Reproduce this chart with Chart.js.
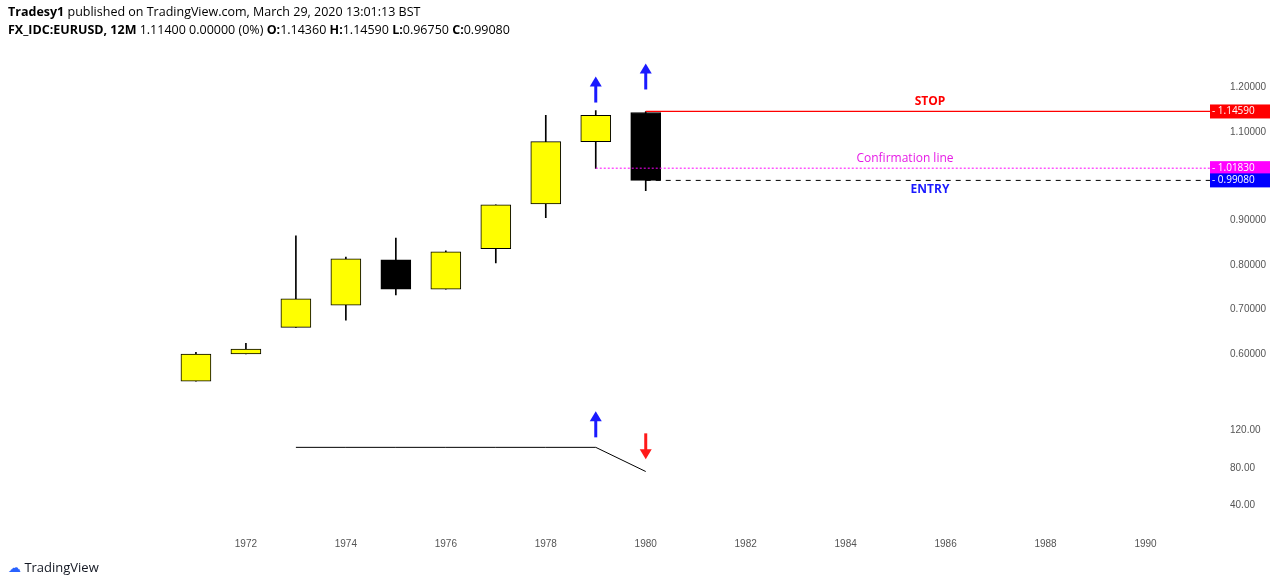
<!DOCTYPE html>
<html><head><meta charset="utf-8">
<script src="https://cdn.jsdelivr.net/npm/chart.js@4.4.1/dist/chart.umd.min.js"></script>
<style>
html,body{margin:0;padding:0;background:#fff;font-family:"Open Sans",sans-serif;}
#wrap{position:relative;width:1274px;height:586px;}
#hdr{position:absolute;left:8px;top:3px;font-size:12.5px;line-height:18px;color:#000;}
#logo{position:absolute;left:8px;bottom:10px;font-size:13px;color:#131722;}
</style></head>
<body><div id="wrap">
<canvas id="c" width="1274" height="586"></canvas>
<div id="hdr"><b>Tradesy1</b> published on TradingView.com, March 29, 2020 13:01:13 BST<br><b>FX_IDC:EURUSD, 12M</b> 1.11400 0.00000 (0%) <b>O:</b>1.14360 <b>H:</b>1.14590 <b>L:</b>0.96750 <b>C:</b>0.99080</div>
<div id="logo"><span style="color:#2962ff">&#9729;</span> TradingView</div>
</div>
<script>
// yearly candles
const years = [1971, 1972, 1973, 1974, 1975, 1976, 1977, 1978, 1979, 1980];
const opens = [0.539, 0.600, 0.660, 0.710, 0.812, 0.746, 0.837, 0.938, 1.078, 1.1436];
const highs = [0.604, 0.624, 0.866, 0.818, 0.861, 0.832, 0.936, 1.137, 1.148, 1.1459];
const lows = [0.539, 0.600, 0.660, 0.676, 0.733, 0.746, 0.805, 0.907, 1.018, 0.9675];
const closes = [0.600, 0.611, 0.724, 0.814, 0.746, 0.830, 0.936, 1.078, 1.137, 0.9908];

// indicator pane
const indYears = [1973, 1974, 1975, 1976, 1977, 1978, 1979, 1980];
const indValues = [102, 102, 102, 102, 102, 102, 102, 76];

const priceTicks = [0.6, 0.7, 0.8, 0.9, 1.0, 1.1, 1.2];
const indTicks = [40, 80, 120];
const yearTicks = [1972, 1974, 1976, 1978, 1980, 1982, 1984, 1986, 1988, 1990];

const stopLevel = 1.1459, confLevel = 1.0183, entryLevel = 0.9908;
const xMin = 1968.29, xMax = 1990.08, lineEnd = 1994;

const wicks = years.map((y, i) => ({x: y, y: [lows[i], highs[i]]}));
const bodies = years.map((y, i) => ({x: y, y: [opens[i], closes[i]]}));
const bodyColors = years.map((y, i) => closes[i] >= opens[i] ? '#ffff00' : '#000000');

const overlay = {
  id: 'overlay',
  afterDatasetsDraw(chart) {
    const ctx = chart.ctx, xs = chart.scales.x, yp = chart.scales.y, yi = chart.scales.y2;
    const ca = chart.chartArea;
    function arrow(x, y, up, color) {
      ctx.save(); ctx.fillStyle = color; ctx.strokeStyle = color; ctx.lineWidth = 3;
      const len = 26, dir = up ? -1 : 1;
      ctx.beginPath(); ctx.moveTo(x, y); ctx.lineTo(x, y + dir * (len - 8)); ctx.stroke();
      ctx.beginPath(); ctx.moveTo(x, y + dir * len); ctx.lineTo(x - 6, y + dir * (len - 10));
      ctx.lineTo(x + 6, y + dir * (len - 10)); ctx.closePath(); ctx.fill(); ctx.restore();
    }
    arrow(xs.getPixelForValue(1979), yp.getPixelForValue(highs[8]) - 8, true, '#1a1aff');
    arrow(xs.getPixelForValue(1980), yp.getPixelForValue(highs[9]) - 22, true, '#1a1aff');
    arrow(xs.getPixelForValue(1979), yi.getPixelForValue(indValues[6]) - 10, true, '#1a1aff');
    arrow(xs.getPixelForValue(1980), yi.getPixelForValue(indValues[6]) - 14, false, '#ff1a1a');

    ctx.save(); ctx.font = 'bold 12px "Open Sans"'; ctx.textAlign = 'center';
    ctx.fillStyle = '#ff0000'; ctx.fillText('STOP', 930, yp.getPixelForValue(stopLevel) - 6);
    ctx.font = '12px "Open Sans"'; ctx.fillStyle = '#e619e6';
    ctx.fillText('Confirmation line', 905, yp.getPixelForValue(confLevel) - 6);
    ctx.font = 'bold 12px "Open Sans"'; ctx.fillStyle = '#1a1aff';
    ctx.fillText('ENTRY', 930, yp.getPixelForValue(entryLevel) + 13);
    // axis tags
    const tags = [[stopLevel, '#ff0000'], [confLevel, '#ff00ff'], [entryLevel, '#0000ff']];
    ctx.font = '10px "Open Sans"'; ctx.textAlign = 'left'; ctx.textBaseline = 'middle';
    tags.forEach(([v, c]) => {
      const py = yp.getPixelForValue(v);
      ctx.fillStyle = c; ctx.fillRect(ca.right, py - 7, 60, 14);
      ctx.fillStyle = '#fff'; ctx.fillText('- ' + v.toFixed(5), ca.right + 2, py);
    });
    ctx.restore();
  }
};

new Chart(document.getElementById('c'), {
  type: 'bar',
  data: {
    datasets: [
      {type: 'line', data: [{x: 1980, y: stopLevel}, {x: lineEnd, y: stopLevel}], borderColor: '#ff0000', backgroundColor: '#ff0000', borderWidth: 1.2, pointRadius: 0, yAxisID: 'y'},
      {type: 'line', data: [{x: 1979, y: confLevel}, {x: lineEnd, y: confLevel}], borderColor: '#ff00ff', borderWidth: 1, borderDash: [2, 2], pointRadius: 0, yAxisID: 'y'},
      {type: 'line', data: [{x: 1980, y: entryLevel}, {x: lineEnd, y: entryLevel}], borderColor: '#000', borderWidth: 1, borderDash: [5, 5], pointRadius: 0, yAxisID: 'y'},
      {data: wicks, backgroundColor: '#000', barThickness: 1, grouped: false, yAxisID: 'y', order: 2},
      {data: bodies, backgroundColor: bodyColors, borderColor: '#000', borderWidth: 1, borderSkipped: false, barThickness: 30, grouped: false, yAxisID: 'y', order: 1},
      {type: 'line', data: indYears.map((y, i) => ({x: y, y: indValues[i]})), borderColor: '#000', borderWidth: 1, pointRadius: 0, yAxisID: 'y2'}
    ]
  },
  options: {
    responsive: false, animation: false,
    layout: {padding: {top: 43, bottom: 30, left: 0}},
    plugins: {legend: {display: false}, tooltip: {enabled: false}},
    scales: {
      x: {
        type: 'linear', min: xMin, max: xMax, grid: {display: false}, border: {display: false},
        afterBuildTicks: s => { s.ticks = yearTicks.map(v => ({value: v})); },
        ticks: {color: '#555', font: {size: 10}, callback: v => String(v), maxRotation: 0, padding: 6}
      },
      y: {
        position: 'right', stack: 'p', stackWeight: 354, min: 0.5, max: 1.3, grid: {display: false}, border: {display: false},
        afterBuildTicks: s => { s.ticks = priceTicks.map(v => ({value: v})); },
        afterFit: s => { s.width = 64; },
        ticks: {color: '#555', font: {size: 10}, callback: v => v.toFixed(5), padding: 12}
      },
      y2: {
        position: 'right', stack: 'p', stackWeight: 125, min: 19.5, max: 154.6, offset: false, grid: {display: false}, border: {display: false},
        afterBuildTicks: s => { s.ticks = indTicks.map(v => ({value: v})); },
        afterFit: s => { s.width = 0; },
        ticks: {color: '#555', font: {size: 10}, callback: v => v.toFixed(2), padding: 12}
      }
    }
  },
  plugins: [overlay]
});
</script>
</body></html>
